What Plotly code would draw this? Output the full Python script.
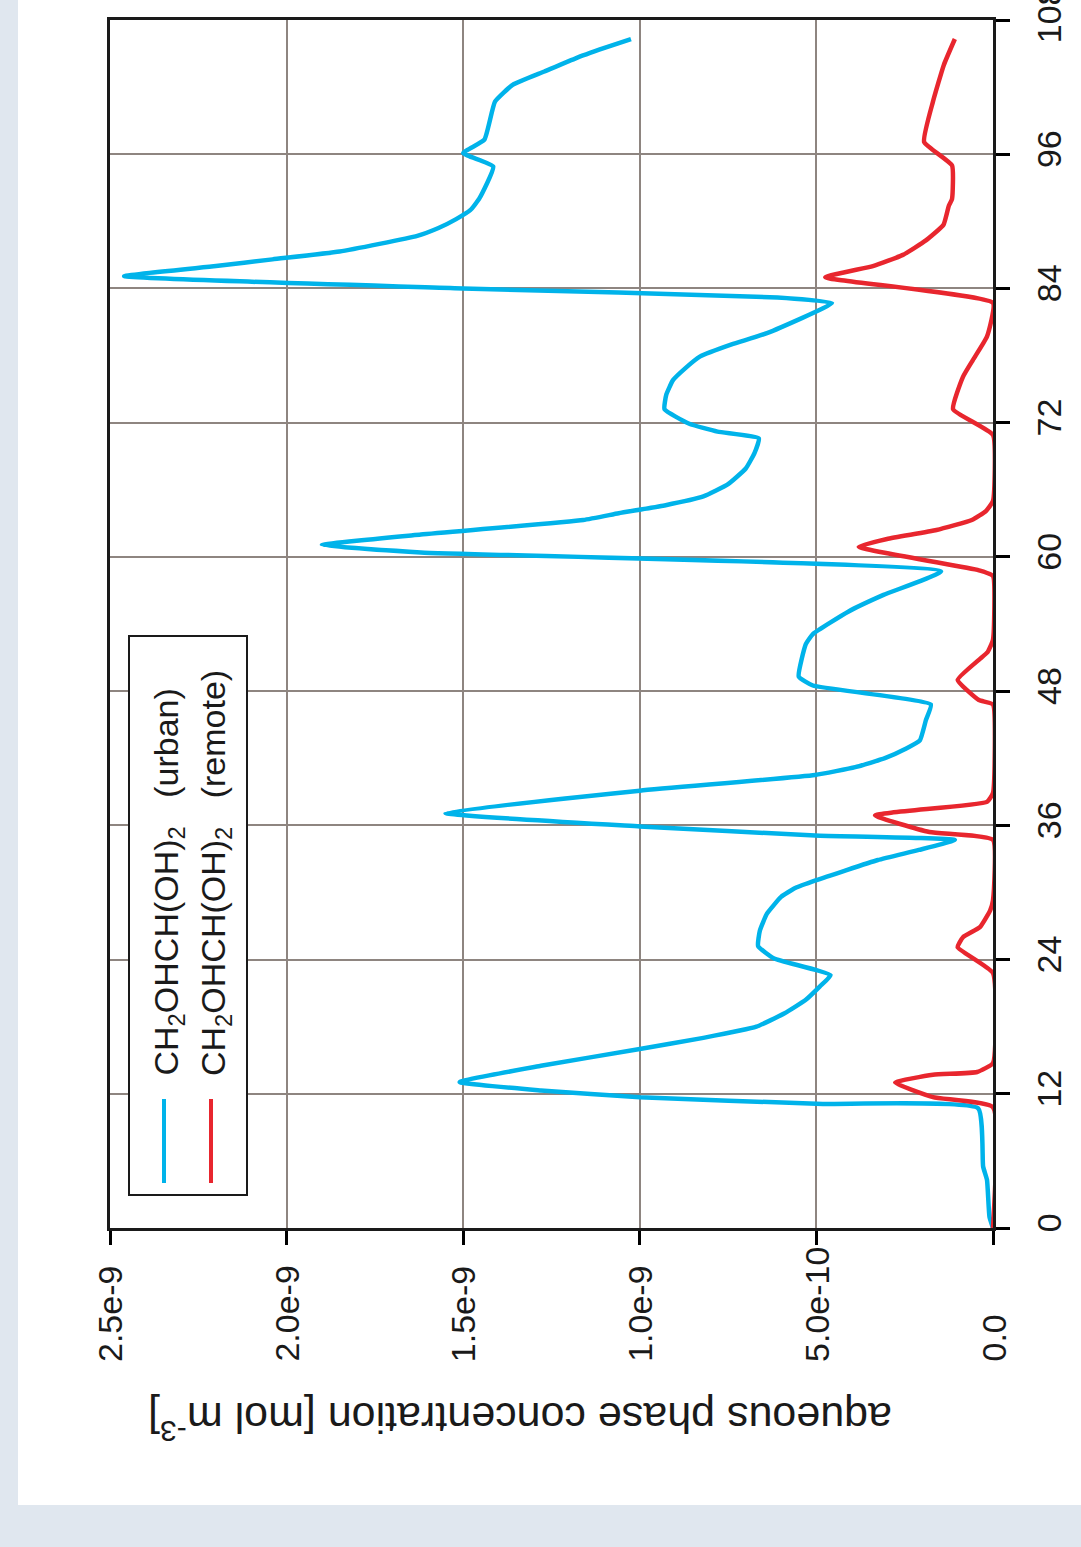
import numpy as np
import plotly.graph_objects as go

# Time axis [h] and aqueous concentrations (in units of 1e-9 mol m^-3)
time_urban = [0, 1.0, 4.3, 5.5, 10.7, 11.1, 11.7, 12.3, 13.05, 14.5, 16.0, 17.0, 18.0, 19.2,
              20.4, 21.6, 22.6, 24.1, 25.2, 26.6, 28.1, 29.6, 30.4, 31.1, 32.9, 33.8, 34.7,
              35.1, 35.9, 37.1, 39.1, 40.5, 41.2, 42.0, 42.8, 43.6, 45.4, 46.8, 48.5, 49.3,
              52.2, 53.1, 55.1, 56.6, 58.7, 60.4, 61.06, 62.0, 63.3, 63.9, 64.6, 65.4, 66.5,
              67.9, 69.3, 70.6, 71.2, 71.9, 73.2, 74.5, 75.8, 76.9, 77.9, 79.0, 80.0, 82.7,
              83.2, 84.0, 85.1, 86.0, 86.6, 87.3, 88.7, 89.4, 90.2, 91.0, 92.0, 94.9, 96.1,
              97.3, 100.7, 102.2, 103.4, 104.6, 105.5, 106.3]
conc_urban = [0.0, 0.01, 0.017, 0.028, 0.042, 0.5, 1.0, 1.28, 1.51, 1.28, 1.0, 0.82, 0.67, 0.59,
              0.53, 0.49, 0.46, 0.62, 0.665, 0.66, 0.64, 0.60, 0.56, 0.50, 0.326, 0.21, 0.108,
              0.504, 1.0, 1.55, 1.0, 0.504, 0.39, 0.306, 0.25, 0.207, 0.19, 0.176, 0.51, 0.55,
              0.53, 0.51, 0.41, 0.31, 0.147, 1.62, 1.90, 1.62, 1.16, 1.06, 0.93, 0.82, 0.75,
              0.70, 0.675, 0.663, 0.78, 0.86, 0.93, 0.925, 0.906, 0.87, 0.83, 0.74, 0.64, 0.456,
              0.61, 1.5, 2.46, 2.2, 2.04, 1.85, 1.63, 1.57, 1.52, 1.48, 1.455, 1.415, 1.50,
              1.44, 1.41, 1.36, 1.27, 1.18, 1.10, 1.025]

time_remote = [0, 10.8, 11.7, 13.0, 13.7, 13.95, 14.75, 22.8, 25.1, 26.0, 26.9, 28.4, 29.3,
               34.7, 35.4, 36.9, 38.1, 38.9, 46.8, 47.2, 49.0, 50.8, 51.5, 52.6, 58.3, 58.8,
               60.9, 61.6, 62.4, 63.3, 64.1, 65.0, 70.9, 73.2, 76.1, 77.6, 79.7, 82.7, 85.0,
               86.0, 87.0, 88.3, 89.7, 91.4, 92.0, 95.0, 97.1, 100.7, 104.0, 106.3]
conc_remote = [0.0, 0.0, 0.17, 0.277, 0.17, 0.045, 0.0, 0.0, 0.10, 0.085, 0.037, 0.008, 0.0,
               0.0, 0.18, 0.334, 0.017, 0.0, 0.0, 0.04, 0.10, 0.04, 0.015, 0.0, 0.0, 0.04,
               0.38, 0.30, 0.16, 0.06, 0.02, 0.0, 0.0, 0.113, 0.085, 0.057, 0.017, 0.0, 0.475,
               0.34, 0.255, 0.19, 0.14, 0.125, 0.116, 0.116, 0.195, 0.17, 0.139, 0.108]

conc_ticks = [0.0, 5e-10, 1e-9, 1.5e-9, 2e-9, 2.5e-9]
conc_tick_labels = ["0.0", "5.0e-10", "1.0e-9", "1.5e-9", "2.0e-9", "2.5e-9"]
time_ticks = [0, 12, 24, 36, 48, 60, 72, 84, 96, 108]

series_names = ["CH<sub>2</sub>OHCH(OH)<sub>2</sub>\u00a0\u00a0\u00a0(urban)",
                "CH<sub>2</sub>OHCH(OH)<sub>2</sub>\u00a0\u00a0\u00a0(remote)"]
series_colors = ["#00b3ea", "#e8262e"]

FONT = "Liberation Sans, Arial, Helvetica, sans-serif"
W, H = 1081, 1547
L, R, T, B = 110, 993, 20, 1228   # plot area in pixels


def px_x(p):
    return (p - L) / (R - L)


def px_y(p):
    return (B - p) / (B - T)


fig = go.Figure()
for t, c, name, col in [(time_urban, conc_urban, series_names[0], series_colors[0]),
                        (time_remote, conc_remote, series_names[1], series_colors[1])]:
    fig.add_trace(go.Scatter(x=np.array(c) * 1e-9, y=t, mode="lines", name=name,
                             line=dict(color=col, width=4.5, shape="spline", smoothing=0.4),
                             showlegend=False))

grid = "#8e8580"
fig.update_xaxes(range=[2.5e-9, 0], tickvals=conc_ticks, showticklabels=False,
                 ticks="outside", ticklen=14, tickwidth=3, tickcolor="black",
                 showgrid=True, gridcolor=grid, gridwidth=2, automargin=False,
                 showline=True, linecolor="#1a1a1a", linewidth=3, mirror=True,
                 zeroline=False)
fig.update_yaxes(range=[0, 108], tickvals=time_ticks, side="right", tickangle=-90,
                 tickfont=dict(family=FONT, size=34, color="#1a1a1a"),
                 ticklabelstandoff=10, ticklabeloverflow="allow", automargin=False,
                 ticks="outside", ticklen=14, tickwidth=3, tickcolor="black",
                 showgrid=True, gridcolor=grid, gridwidth=2,
                 showline=True, linecolor="#1a1a1a", linewidth=3, mirror=True,
                 zeroline=False)

annotations = []
# concentration tick labels, rotated
for v, lab in zip(conc_ticks, conc_tick_labels):
    annotations.append(dict(x=v, xref="x", y=px_y(1364), yref="paper", text=lab,
                            textangle=-90, xanchor="center", yanchor="bottom",
                            showarrow=False,
                            font=dict(family=FONT, size=34, color="#1a1a1a")))
# axis title (upside down)
annotations.append(dict(x=px_x(520), xref="paper", y=px_y(1421), yref="paper",
                        text="aqueous phase concentration [mol m<sup>-3</sup>]",
                        textangle=180, xanchor="center", yanchor="middle", showarrow=False,
                        font=dict(family=FONT, size=43, color="#1a1a1a")))
# legend entries
for xc, name in [(168, series_names[0]), (215, series_names[1])]:
    annotations.append(dict(x=px_x(xc), xref="paper", y=px_y(1078), yref="paper",
                            text=name, textangle=-90, xanchor="center", yanchor="bottom",
                            showarrow=False,
                            font=dict(family=FONT, size=34, color="#1a1a1a")))

shapes = [
    # white card on the tinted page
    dict(type="rect", xref="paper", yref="paper", x0=px_x(18), x1=px_x(W + 5),
         y0=px_y(1505), y1=px_y(-5), fillcolor="white", line=dict(width=0), layer="below"),
    # legend box
    dict(type="rect", xref="paper", yref="paper", x0=px_x(129), x1=px_x(247),
         y0=px_y(1195), y1=px_y(636), fillcolor="white",
         line=dict(color="#1a1a1a", width=2), layer="above"),
]
for xc, col in [(164, series_colors[0]), (211, series_colors[1])]:
    shapes.append(dict(type="line", xref="paper", yref="paper", x0=px_x(xc), x1=px_x(xc),
                       y0=px_y(1183), y1=px_y(1099), line=dict(color=col, width=4),
                       layer="above"))

fig.update_layout(width=W, height=H, margin=dict(l=L, r=W - R, t=T, b=H - B),
                  paper_bgcolor="#e0e7ef", plot_bgcolor="white",
                  font=dict(family=FONT), annotations=annotations, shapes=shapes)

fig.write_html("out.html")
